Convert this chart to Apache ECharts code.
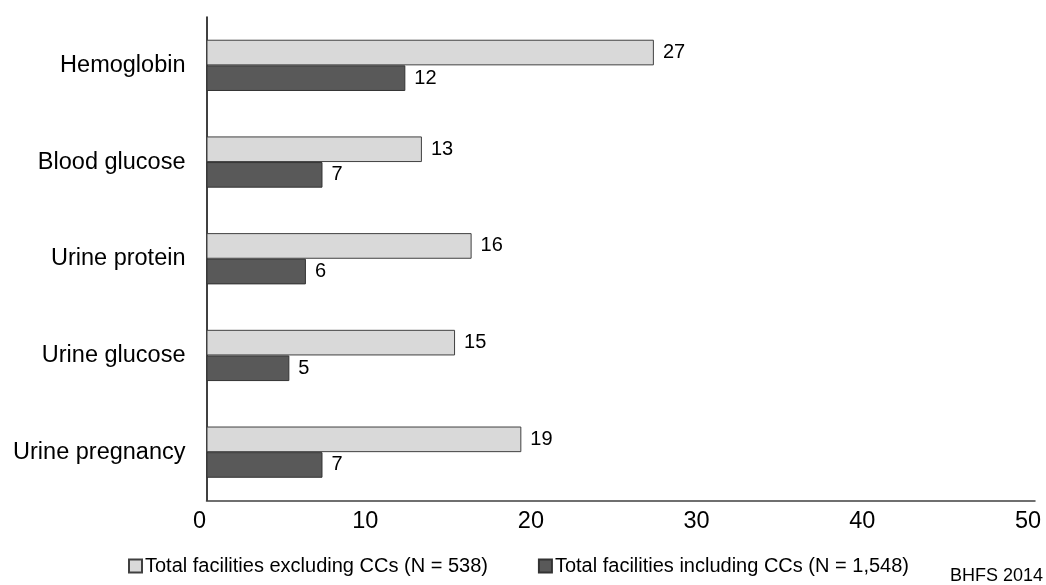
<!DOCTYPE html>
<html>
<head>
<meta charset="utf-8">
<script src="https://cdn.jsdelivr.net/npm/echarts@6/dist/echarts.min.js"></script>
<style>
  html, body { margin: 0; padding: 0; background: #fff; }
  #chart { width: 1046px; height: 585px; }
</style>
</head>
<body>
<div id="chart"></div>
<script>
const categories = ["Hemoglobin", "Blood glucose", "Urine protein", "Urine glucose", "Urine pregnancy"];
const excludingCCs = [27, 13, 16, 15, 19];
const includingCCs = [12, 7, 6, 5, 7];
const seriesNames = ["Total facilities excluding CCs (N = 538)", "Total facilities including CCs (N = 1,548)"];
const xTicks = [0, 10, 20, 30, 40, 50];
const sourceNote = "BHFS 2014";

const FONT = '"Liberation Sans", Arial, sans-serif';
const chart = echarts.init(document.getElementById('chart'), null, { renderer: 'canvas' });

const labelStyle = {
  show: true, position: 'right', distance: 9,
  fontFamily: FONT, fontSize: 20, color: '#000'
};

chart.setOption({
  animation: false,
  backgroundColor: '#fff',
  grid: { left: 206.5, right: 11, top: 17, bottom: 84.5, containLabel: false },
  xAxis: {
    type: 'value', min: xTicks[0], max: xTicks[xTicks.length - 1], interval: 10,
    axisLine: { show: true, lineStyle: { color: '#404040', width: 1.5 } },
    axisTick: { show: false },
    splitLine: { show: false },
    axisLabel: {
      fontFamily: FONT, fontSize: 23.5, color: '#000', margin: 9,
      padding: [0, 14, 0, 0]
    }
  },
  yAxis: {
    type: 'category', data: categories, inverse: true,
    axisLine: { show: true, lineStyle: { color: '#000', width: 1.5 } },
    axisTick: { show: false },
    axisLabel: { fontFamily: FONT, fontSize: 23.5, color: '#000', margin: 21 }
  },
  legend: {
    left: 123, top: 551,
    itemWidth: 13, itemHeight: 13, itemGap: 50,
    icon: 'rect',
    textStyle: { fontFamily: FONT, fontSize: 20, color: '#000', padding: [0, 0, 0, -2] },
    data: seriesNames
  },
  series: [
    {
      name: seriesNames[0], type: 'bar', data: excludingCCs,
      barCategoryGap: '47%', barGap: '0%',
      itemStyle: { color: '#d9d9d9', borderColor: '#404040', borderWidth: 1 },
      label: labelStyle
    },
    {
      name: seriesNames[1], type: 'bar', data: includingCCs,
      itemStyle: { color: '#595959', borderColor: '#333333', borderWidth: 1 },
      label: labelStyle
    }
  ],
  graphic: [{
    type: 'text', right: 3, top: 567,
    style: { text: sourceNote, font: '18px "Liberation Sans", Arial, sans-serif', fill: '#000' }
  }]
});
</script>
</body>
</html>
